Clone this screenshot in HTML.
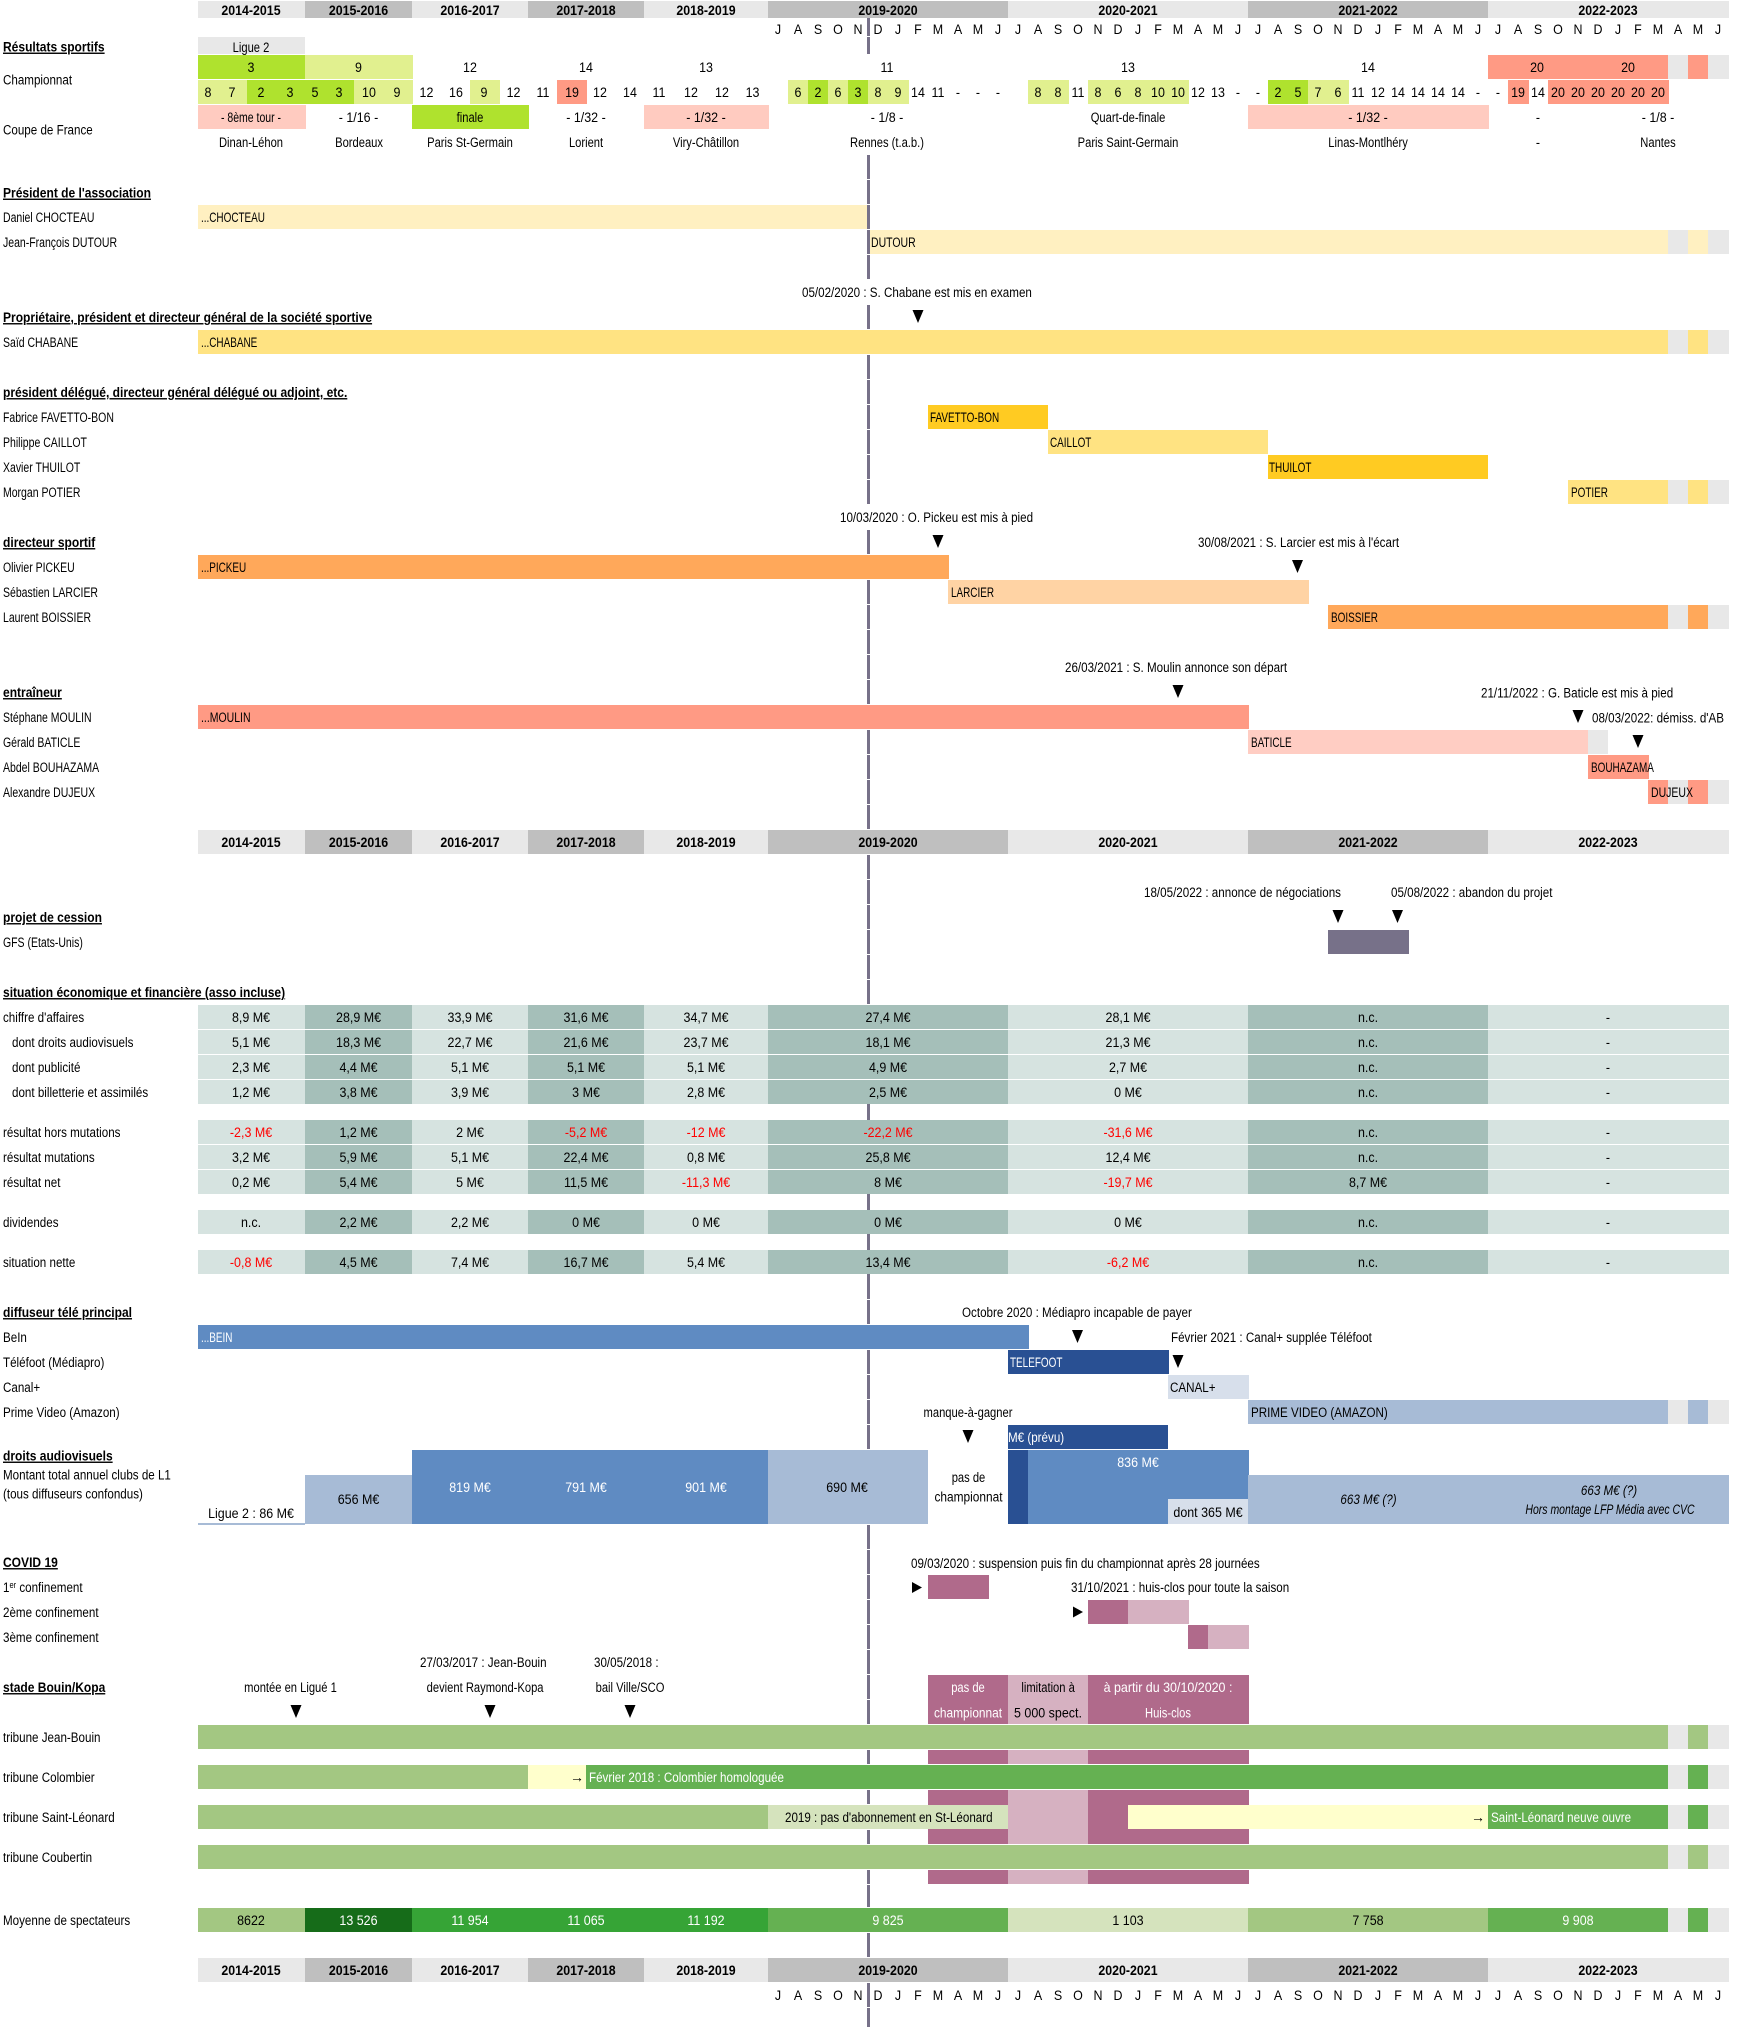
<!DOCTYPE html>
<html lang="fr"><head><meta charset="utf-8"><title>Timeline</title>
<style>
html,body{margin:0;padding:0;background:#fff}
svg{display:block}
text{font:14px "Liberation Sans",sans-serif;fill:#000;transform-box:fill-box;transform-origin:0 50%;transform:scaleX(.83)}
.m{text-anchor:middle;transform-origin:50% 50%;transform:scaleX(.89)}
.t{transform:scaleX(.8)}
.b{font-weight:bold;transform:scaleX(.86)}
.b.m{transform:scaleX(.885)}
.c{transform:scaleX(.75)}
.d{transform:scaleX(.71)}
.u{text-decoration:underline}
.w{fill:#fff}
.r{fill:#f00}
.i{font-style:italic}
.a{font-weight:bold;transform:none}
rect{shape-rendering:crispEdges}
</style></head><body>
<svg xmlns="http://www.w3.org/2000/svg" width="1751" height="2027" viewBox="0 0 1751 2027">
<rect width="1751" height="2027" fill="#fff"/>

<!-- header 1 -->
<g fill="#e8e8e8"><rect x="198" y="1" width="107" height="17"/><rect x="412" y="1" width="116" height="17"/><rect x="644" y="1" width="124" height="17"/><rect x="1008" y="1" width="240" height="17"/><rect x="1488" y="1" width="241" height="17"/></g>
<g fill="#bfbfbf"><rect x="305" y="1" width="107" height="17"/><rect x="528" y="1" width="116" height="17"/><rect x="768" y="1" width="240" height="17"/><rect x="1248" y="1" width="240" height="17"/></g>
<!-- header 2 -->
<g fill="#e8e8e8"><rect x="198" y="830" width="107" height="24"/><rect x="412" y="830" width="116" height="24"/><rect x="644" y="830" width="124" height="24"/><rect x="1008" y="830" width="240" height="24"/><rect x="1488" y="830" width="241" height="24"/></g>
<g fill="#bfbfbf"><rect x="305" y="830" width="107" height="24"/><rect x="528" y="830" width="116" height="24"/><rect x="768" y="830" width="240" height="24"/><rect x="1248" y="830" width="240" height="24"/></g>
<!-- header 3 -->
<g fill="#e8e8e8"><rect x="198" y="1958" width="107" height="24"/><rect x="412" y="1958" width="116" height="24"/><rect x="644" y="1958" width="124" height="24"/><rect x="1008" y="1958" width="240" height="24"/><rect x="1488" y="1958" width="241" height="24"/></g>
<g fill="#bfbfbf"><rect x="305" y="1958" width="107" height="24"/><rect x="528" y="1958" width="116" height="24"/><rect x="768" y="1958" width="240" height="24"/><rect x="1248" y="1958" width="240" height="24"/></g>

<!-- gray tails -->
<g fill="#e8e8e8">
<rect x="1668" y="55" width="61" height="24"/><rect x="1668" y="230" width="61" height="24"/><rect x="1668" y="330" width="61" height="24"/><rect x="1668" y="480" width="61" height="24"/><rect x="1668" y="605" width="61" height="24"/><rect x="1668" y="780" width="61" height="24"/><rect x="1588" y="730" width="20" height="24"/><rect x="1668" y="1400" width="61" height="24"/><rect x="1668" y="1725" width="61" height="24"/><rect x="1668" y="1765" width="61" height="24"/><rect x="1668" y="1805" width="61" height="24"/><rect x="1668" y="1845" width="61" height="24"/><rect x="1668" y="1908" width="61" height="24"/>
</g>

<!-- results -->
<rect x="198" y="37" width="107" height="17" fill="#e8e8e8"/>
<rect x="198" y="55" width="107" height="24" fill="#afe22e"/>
<rect x="305" y="55" width="108" height="24" fill="#e1f08f"/>
<rect x="1488" y="55" width="180" height="24" fill="#ff9a84"/><rect x="1688" y="55" width="20" height="24" fill="#ff9a84"/>
<g fill="#e1f08f"><rect x="198" y="80" width="49" height="24"/><rect x="354" y="80" width="59" height="24"/><rect x="470" y="80" width="30" height="24"/><rect x="788" y="80" width="20" height="24"/><rect x="828" y="80" width="20" height="24"/><rect x="868" y="80" width="41" height="24"/><rect x="1028" y="80" width="41" height="24"/><rect x="1088" y="80" width="101" height="24"/><rect x="1308" y="80" width="41" height="24"/></g>
<g fill="#afe22e"><rect x="247" y="80" width="107" height="24"/><rect x="808" y="80" width="20" height="24"/><rect x="848" y="80" width="20" height="24"/><rect x="1268" y="80" width="40" height="24"/></g>
<g fill="#ff9a84"><rect x="557" y="80" width="30" height="24"/><rect x="1508" y="80" width="21" height="24"/><rect x="1548" y="80" width="121" height="24"/></g>
<g fill="#ffcbc0"><rect x="198" y="105" width="108" height="24"/><rect x="644" y="105" width="125" height="24"/><rect x="1248" y="105" width="241" height="24"/></g>
<rect x="412" y="105" width="117" height="24" fill="#afe22e"/>

<!-- vertical line -->
<path d="M868.5 18V36M868.5 37V54M868.5 155V179M868.5 180V204M868.5 205V229M868.5 230V254M868.5 255V279M868.5 305V329M868.5 355V379M868.5 380V404M868.5 405V429M868.5 430V454M868.5 455V479M868.5 480V504M868.5 530V554M868.5 580V604M868.5 605V629M868.5 630V654M868.5 655V679M868.5 680V704M868.5 730V754M868.5 755V779M868.5 780V804M868.5 805V829M868.5 855V879M868.5 880V904M868.5 905V929M868.5 930V954M868.5 955V979M868.5 980V1004M868.5 1104V1120M868.5 1194V1210M868.5 1234V1250M868.5 1274V1299M868.5 1300V1324M868.5 1350V1374M868.5 1375V1399M868.5 1400V1424M868.5 1425V1449M868.5 1525V1549M868.5 1550V1574M868.5 1575V1599M868.5 1600V1624M868.5 1625V1649M868.5 1650V1674M868.5 1675V1699M868.5 1700V1724M868.5 1750V1764M868.5 1790V1804M868.5 1830V1844M868.5 1870V1884M868.5 1885V1907M868.5 1933V1957M868.5 1983V2007M868.5 2008V2027" stroke="#777189" stroke-width="3" fill="none" shape-rendering="crispEdges"/>

<!-- bars -->
<rect x="198" y="205" width="669" height="24" fill="#fff0c1"/>
<rect x="870" y="230" width="798" height="24" fill="#fff0c1"/><rect x="1688" y="230" width="20" height="24" fill="#fff0c1"/>
<rect x="198" y="330" width="1470" height="24" fill="#ffe382"/><rect x="1688" y="330" width="20" height="24" fill="#ffe382"/>
<rect x="928" y="405" width="120" height="24" fill="#ffcb22"/>
<rect x="1048" y="430" width="220" height="24" fill="#ffe382"/>
<rect x="1268" y="455" width="220" height="24" fill="#ffcb22"/>
<rect x="1568" y="480" width="100" height="24" fill="#ffe382"/><rect x="1688" y="480" width="20" height="24" fill="#ffe382"/>
<rect x="198" y="555" width="751" height="24" fill="#ffa85a"/>
<rect x="948" y="580" width="361" height="24" fill="#ffd3a4"/>
<rect x="1328" y="605" width="340" height="24" fill="#ffa85a"/><rect x="1688" y="605" width="20" height="24" fill="#ffa85a"/>
<rect x="198" y="705" width="1051" height="24" fill="#ff9a84"/>
<rect x="1248" y="730" width="340" height="24" fill="#ffcdc3"/>
<rect x="1588" y="755" width="61" height="24" fill="#ff9a84"/>
<rect x="1648" y="780" width="20" height="24" fill="#ff9a84"/><rect x="1688" y="780" width="20" height="24" fill="#ff9a84"/>
<rect x="1328" y="930" width="81" height="24" fill="#777189"/>

<!-- finance cells -->
<g fill="#d6e3e0">
<rect x="198" y="1005" width="1531" height="24"/><rect x="198" y="1030" width="1531" height="24"/><rect x="198" y="1055" width="1531" height="24"/><rect x="198" y="1080" width="1531" height="24"/><rect x="198" y="1120" width="1531" height="24"/><rect x="198" y="1145" width="1531" height="24"/><rect x="198" y="1170" width="1531" height="24"/><rect x="198" y="1210" width="1531" height="24"/><rect x="198" y="1250" width="1531" height="24"/>
</g>
<g fill="#a5bfb9">
<path d="M305 1005h107v24h-107zM528 1005h116v24h-116zM768 1005h240v24h-240zM1248 1005h240v24h-240zM305 1030h107v24h-107zM528 1030h116v24h-116zM768 1030h240v24h-240zM1248 1030h240v24h-240zM305 1055h107v24h-107zM528 1055h116v24h-116zM768 1055h240v24h-240zM1248 1055h240v24h-240zM305 1080h107v24h-107zM528 1080h116v24h-116zM768 1080h240v24h-240zM1248 1080h240v24h-240zM305 1120h107v24h-107zM528 1120h116v24h-116zM768 1120h240v24h-240zM1248 1120h240v24h-240zM305 1145h107v24h-107zM528 1145h116v24h-116zM768 1145h240v24h-240zM1248 1145h240v24h-240zM305 1170h107v24h-107zM528 1170h116v24h-116zM768 1170h240v24h-240zM1248 1170h240v24h-240zM305 1210h107v24h-107zM528 1210h116v24h-116zM768 1210h240v24h-240zM1248 1210h240v24h-240zM305 1250h107v24h-107zM528 1250h116v24h-116zM768 1250h240v24h-240zM1248 1250h240v24h-240z" shape-rendering="crispEdges"/>
</g>

<!-- TV -->
<rect x="198" y="1325" width="831" height="24" fill="#5f8bc2"/>
<rect x="1008" y="1350" width="161" height="24" fill="#295093"/>
<rect x="1168" y="1375" width="81" height="24" fill="#d7dfeb"/>
<rect x="1248" y="1400" width="420" height="24" fill="#a7bbd6"/><rect x="1688" y="1400" width="20" height="24" fill="#a7bbd6"/>
<rect x="1008" y="1425" width="160" height="24" fill="#295093"/>
<rect x="198" y="1523" width="107" height="2" fill="#a7bbd6"/>
<rect x="305" y="1475" width="107" height="49" fill="#a7bbd6"/>
<rect x="412" y="1450" width="356" height="74" fill="#5f8bc2"/>
<rect x="768" y="1450" width="160" height="74" fill="#a7bbd6"/>
<rect x="1008" y="1450" width="20" height="74" fill="#295093"/>
<rect x="1028" y="1450" width="221" height="49" fill="#5f8bc2"/><rect x="1028" y="1499" width="140" height="25" fill="#5f8bc2"/>
<rect x="1168" y="1499" width="80" height="25" fill="#d7dfeb"/>
<rect x="1248" y="1475" width="481" height="49" fill="#a7bbd6"/>

<!-- covid -->
<rect x="928" y="1575" width="61" height="24" fill="#b06a8b"/>
<rect x="1088" y="1600" width="40" height="24" fill="#b06a8b"/><rect x="1128" y="1600" width="61" height="24" fill="#d6b1c1"/>
<rect x="1188" y="1625" width="20" height="24" fill="#b06a8b"/><rect x="1208" y="1625" width="41" height="24" fill="#d6b1c1"/>

<!-- stadium -->
<g fill="#b06a8b"><rect x="928" y="1675" width="80" height="49"/><rect x="1088" y="1675" width="161" height="49"/><rect x="928" y="1750" width="80" height="14"/><rect x="1088" y="1750" width="161" height="14"/><rect x="928" y="1790" width="80" height="54"/><rect x="1088" y="1790" width="161" height="54"/><rect x="928" y="1870" width="80" height="14"/><rect x="1088" y="1870" width="161" height="14"/></g>
<g fill="#d6b1c1"><rect x="1008" y="1675" width="80" height="49"/><rect x="1008" y="1750" width="80" height="14"/><rect x="1008" y="1790" width="80" height="54"/><rect x="1008" y="1870" width="80" height="14"/></g>
<g fill="#a3c782"><rect x="198" y="1725" width="1470" height="24"/><rect x="1688" y="1725" width="20" height="24"/><rect x="198" y="1765" width="330" height="24"/><rect x="198" y="1805" width="570" height="24"/><rect x="198" y="1845" width="1470" height="24"/><rect x="1688" y="1845" width="20" height="24"/><rect x="198" y="1908" width="107" height="24"/><rect x="1248" y="1908" width="240" height="24"/></g>
<rect x="528" y="1765" width="58" height="24" fill="#ffffcc"/>
<g fill="#65b152"><rect x="586" y="1765" width="1082" height="24"/><rect x="1688" y="1765" width="20" height="24"/><rect x="1488" y="1805" width="180" height="24"/><rect x="1688" y="1805" width="20" height="24"/><rect x="768" y="1908" width="240" height="24"/><rect x="1488" y="1908" width="180" height="24"/><rect x="1688" y="1908" width="20" height="24"/></g>
<rect x="768" y="1805" width="240" height="24" fill="#d5e3bd"/>
<rect x="1128" y="1805" width="360" height="24" fill="#ffffcc"/>
<rect x="305" y="1908" width="107" height="24" fill="#166c19"/>
<rect x="412" y="1908" width="356" height="24" fill="#36a436"/>
<rect x="1008" y="1908" width="240" height="24" fill="#d5e3bd"/>

<!-- triangles -->
<path fill="#000" d="M912.5 310h11l-5.5 13zM932.5 535h11l-5.500 13zM1292 560h11l-5.500 13zM1172.500 685h11l-5.500 13zM1572.500 710h11l-5.500 13zM1632.500 735h11l-5.500 13zM1332.500 910h11l-5.500 13zM1392 910h11l-5.500 13zM1072 1330h11l-5.500 13zM1172.500 1355h11l-5.500 13zM962.500 1430h11l-5.500 13zM290.500 1705h11l-5.500 13zM484.500 1705h11l-5.500 13zM624.500 1705h11l-5.500 13zM912 1582l10 5.500l-10 5.500zM1073 1606.500l10 5.500l-10 5.500z"/>

<!-- header text -->
<text class="b m" x="251" y="15">2014-2015</text><text class="b m" x="358.500" y="15">2015-2016</text><text class="b m" x="470" y="15">2016-2017</text><text class="b m" x="586" y="15">2017-2018</text><text class="b m" x="706" y="15">2018-2019</text><text class="b m" x="888" y="15">2019-2020</text><text class="b m" x="1128" y="15">2020-2021</text><text class="b m" x="1368" y="15">2021-2022</text><text class="b m" x="1608" y="15">2022-2023</text>
<text class="b m" x="251" y="847">2014-2015</text><text class="b m" x="358.500" y="847">2015-2016</text><text class="b m" x="470" y="847">2016-2017</text><text class="b m" x="586" y="847">2017-2018</text><text class="b m" x="706" y="847">2018-2019</text><text class="b m" x="888" y="847">2019-2020</text><text class="b m" x="1128" y="847">2020-2021</text><text class="b m" x="1368" y="847">2021-2022</text><text class="b m" x="1608" y="847">2022-2023</text>
<text class="b m" x="251" y="1975">2014-2015</text><text class="b m" x="358.500" y="1975">2015-2016</text><text class="b m" x="470" y="1975">2016-2017</text><text class="b m" x="586" y="1975">2017-2018</text><text class="b m" x="706" y="1975">2018-2019</text><text class="b m" x="888" y="1975">2019-2020</text><text class="b m" x="1128" y="1975">2020-2021</text><text class="b m" x="1368" y="1975">2021-2022</text><text class="b m" x="1608" y="1975">2022-2023</text>

<!-- months top -->
<text class="m" x="778" y="34">J</text><text class="m" x="798" y="34">A</text><text class="m" x="818" y="34">S</text><text class="m" x="838" y="34">O</text><text class="m" x="858" y="34">N</text><text class="m" x="878" y="34">D</text><text class="m" x="898" y="34">J</text><text class="m" x="918" y="34">F</text><text class="m" x="938" y="34">M</text><text class="m" x="958" y="34">A</text><text class="m" x="978" y="34">M</text><text class="m" x="998" y="34">J</text><text class="m" x="1018" y="34">J</text><text class="m" x="1038" y="34">A</text><text class="m" x="1058" y="34">S</text><text class="m" x="1078" y="34">O</text><text class="m" x="1098" y="34">N</text><text class="m" x="1118" y="34">D</text><text class="m" x="1138" y="34">J</text><text class="m" x="1158" y="34">F</text><text class="m" x="1178" y="34">M</text><text class="m" x="1198" y="34">A</text><text class="m" x="1218" y="34">M</text><text class="m" x="1238" y="34">J</text><text class="m" x="1258" y="34">J</text><text class="m" x="1278" y="34">A</text><text class="m" x="1298" y="34">S</text><text class="m" x="1318" y="34">O</text><text class="m" x="1338" y="34">N</text><text class="m" x="1358" y="34">D</text><text class="m" x="1378" y="34">J</text><text class="m" x="1398" y="34">F</text><text class="m" x="1418" y="34">M</text><text class="m" x="1438" y="34">A</text><text class="m" x="1458" y="34">M</text><text class="m" x="1478" y="34">J</text><text class="m" x="1498" y="34">J</text><text class="m" x="1518" y="34">A</text><text class="m" x="1538" y="34">S</text><text class="m" x="1558" y="34">O</text><text class="m" x="1578" y="34">N</text><text class="m" x="1598" y="34">D</text><text class="m" x="1618" y="34">J</text><text class="m" x="1638" y="34">F</text><text class="m" x="1658" y="34">M</text><text class="m" x="1678" y="34">A</text><text class="m" x="1698" y="34">M</text><text class="m" x="1718" y="34">J</text>
<!-- months bottom -->
<text class="m" x="778" y="2000">J</text><text class="m" x="798" y="2000">A</text><text class="m" x="818" y="2000">S</text><text class="m" x="838" y="2000">O</text><text class="m" x="858" y="2000">N</text><text class="m" x="878" y="2000">D</text><text class="m" x="898" y="2000">J</text><text class="m" x="918" y="2000">F</text><text class="m" x="938" y="2000">M</text><text class="m" x="958" y="2000">A</text><text class="m" x="978" y="2000">M</text><text class="m" x="998" y="2000">J</text><text class="m" x="1018" y="2000">J</text><text class="m" x="1038" y="2000">A</text><text class="m" x="1058" y="2000">S</text><text class="m" x="1078" y="2000">O</text><text class="m" x="1098" y="2000">N</text><text class="m" x="1118" y="2000">D</text><text class="m" x="1138" y="2000">J</text><text class="m" x="1158" y="2000">F</text><text class="m" x="1178" y="2000">M</text><text class="m" x="1198" y="2000">A</text><text class="m" x="1218" y="2000">M</text><text class="m" x="1238" y="2000">J</text><text class="m" x="1258" y="2000">J</text><text class="m" x="1278" y="2000">A</text><text class="m" x="1298" y="2000">S</text><text class="m" x="1318" y="2000">O</text><text class="m" x="1338" y="2000">N</text><text class="m" x="1358" y="2000">D</text><text class="m" x="1378" y="2000">J</text><text class="m" x="1398" y="2000">F</text><text class="m" x="1418" y="2000">M</text><text class="m" x="1438" y="2000">A</text><text class="m" x="1458" y="2000">M</text><text class="m" x="1478" y="2000">J</text><text class="m" x="1498" y="2000">J</text><text class="m" x="1518" y="2000">A</text><text class="m" x="1538" y="2000">S</text><text class="m" x="1558" y="2000">O</text><text class="m" x="1578" y="2000">N</text><text class="m" x="1598" y="2000">D</text><text class="m" x="1618" y="2000">J</text><text class="m" x="1638" y="2000">F</text><text class="m" x="1658" y="2000">M</text><text class="m" x="1678" y="2000">A</text><text class="m" x="1698" y="2000">M</text><text class="m" x="1718" y="2000">J</text>

<!-- left labels -->
<text class="b u" x="3" y="51.500">Résultats sportifs</text>
<text x="3" y="84.500">Championnat</text>
<text x="3" y="134.500">Coupe de France</text>
<text class="b u" x="3" y="197.500">Président de l'association</text>
<text class="c" x="3" y="222">Daniel CHOCTEAU</text>
<text class="c" x="3" y="247">Jean-François DUTOUR</text>
<text class="b u" x="3" y="322">Propriétaire, président et directeur général de la société sportive</text>
<text class="c" x="3" y="347">Saïd CHABANE</text>
<text class="b u" x="3" y="397">président délégué, directeur général délégué ou adjoint, etc.</text>
<text class="c" x="3" y="422">Fabrice FAVETTO-BON</text>
<text class="c" x="3" y="447">Philippe CAILLOT</text>
<text class="c" x="3" y="472">Xavier THUILOT</text>
<text class="c" x="3" y="497">Morgan POTIER</text>
<text class="b u" x="3" y="547">directeur sportif</text>
<text class="c" x="3" y="572">Olivier PICKEU</text>
<text class="c" x="3" y="597">Sébastien LARCIER</text>
<text class="c" x="3" y="622">Laurent BOISSIER</text>
<text class="b u" x="3" y="697">entraîneur</text>
<text class="c" x="3" y="722">Stéphane MOULIN</text>
<text class="c" x="3" y="747">Gérald BATICLE</text>
<text class="c" x="3" y="772">Abdel BOUHAZAMA</text>
<text class="c" x="3" y="797">Alexandre DUJEUX</text>
<text class="b u" x="3" y="922">projet de cession</text>
<text class="c" x="3" y="947">GFS (Etats-Unis)</text>
<text class="b u" x="3" y="997">situation économique et financière (asso incluse)</text>
<text x="3" y="1022">chiffre d'affaires</text>
<text x="12" y="1047">dont droits audiovisuels</text>
<text x="12" y="1072">dont publicité</text>
<text x="12" y="1097">dont billetterie et assimilés</text>
<text x="3" y="1137">résultat hors mutations</text>
<text x="3" y="1162">résultat mutations</text>
<text x="3" y="1187">résultat net</text>
<text x="3" y="1227">dividendes</text>
<text x="3" y="1267">situation nette</text>
<text class="b u" x="3" y="1317">diffuseur télé principal</text>
<text x="3" y="1342">BeIn</text>
<text x="3" y="1367">Téléfoot (Médiapro)</text>
<text x="3" y="1392">Canal+</text>
<text x="3" y="1417">Prime Video (Amazon)</text>
<text class="b u" x="3" y="1460.500">droits audiovisuels</text>
<text x="3" y="1479.500">Montant total annuel clubs de L1</text>
<text x="3" y="1498.500">(tous diffuseurs confondus)</text>
<text class="b u" x="3" y="1567">COVID 19</text>
<text x="3" y="1592">1<tspan font-size="9" dy="-4">er</tspan><tspan dy="4"> confinement</tspan></text>
<text x="3" y="1617">2ème confinement</text>
<text x="3" y="1642">3ème confinement</text>
<text class="b u" x="3" y="1692">stade Bouin/Kopa</text>
<text x="3" y="1742">tribune Jean-Bouin</text>
<text x="3" y="1782">tribune Colombier</text>
<text x="3" y="1822">tribune Saint-Léonard</text>
<text x="3" y="1862">tribune Coubertin</text>
<text x="3" y="1925">Moyenne de spectateurs</text>

<!-- results text -->
<text class="m t" x="251" y="52">Ligue 2</text>
<text class="m" x="251" y="72">3</text><text class="m" x="358.500" y="72">9</text><text class="m" x="470" y="72">12</text><text class="m" x="586" y="72">14</text><text class="m" x="706" y="72">13</text><text class="m" x="887" y="72">11</text><text class="m" x="1128" y="72">13</text><text class="m" x="1368" y="72">14</text><text class="m" x="1537" y="72">20</text><text class="m" x="1628" y="72">20</text>
<text class="m" x="208" y="97">8</text><text class="m" x="232" y="97">7</text><text class="m" x="261" y="97">2</text><text class="m" x="290" y="97">3</text><text class="m" x="315" y="97">5</text><text class="m" x="339" y="97">3</text><text class="m" x="369" y="97">10</text><text class="m" x="397" y="97">9</text><text class="m" x="426.500" y="97">12</text><text class="m" x="456" y="97">16</text><text class="m" x="484" y="97">9</text><text class="m" x="513.500" y="97">12</text><text class="m" x="543" y="97">11</text><text class="m" x="572" y="97">19</text><text class="m" x="600" y="97">12</text><text class="m" x="630" y="97">14</text><text class="m" x="659" y="97">11</text><text class="m" x="691" y="97">12</text><text class="m" x="722" y="97">12</text><text class="m" x="752.500" y="97">13</text>
<text class="m" x="798" y="97">6</text><text class="m" x="818" y="97">2</text><text class="m" x="838" y="97">6</text><text class="m" x="858" y="97">3</text><text class="m" x="878" y="97">8</text><text class="m" x="898" y="97">9</text><text class="m" x="918" y="97">14</text><text class="m" x="938" y="97">11</text><text class="m" x="958" y="97">-</text><text class="m" x="978" y="97">-</text><text class="m" x="998" y="97">-</text>
<text class="m" x="1038" y="97">8</text><text class="m" x="1058" y="97">8</text><text class="m" x="1078" y="97">11</text><text class="m" x="1098" y="97">8</text><text class="m" x="1118" y="97">6</text><text class="m" x="1138" y="97">8</text><text class="m" x="1158" y="97">10</text><text class="m" x="1178" y="97">10</text><text class="m" x="1198" y="97">12</text><text class="m" x="1218" y="97">13</text><text class="m" x="1238" y="97">-</text><text class="m" x="1258" y="97">-</text>
<text class="m" x="1278" y="97">2</text><text class="m" x="1298" y="97">5</text><text class="m" x="1318" y="97">7</text><text class="m" x="1338" y="97">6</text><text class="m" x="1358" y="97">11</text><text class="m" x="1378" y="97">12</text><text class="m" x="1398" y="97">14</text><text class="m" x="1418" y="97">14</text><text class="m" x="1438" y="97">14</text><text class="m" x="1458" y="97">14</text><text class="m" x="1478" y="97">-</text><text class="m" x="1498" y="97">-</text>
<text class="m" x="1518" y="97">19</text><text class="m" x="1538" y="97">14</text><text class="m" x="1558" y="97">20</text><text class="m" x="1578" y="97">20</text><text class="m" x="1598" y="97">20</text><text class="m" x="1618" y="97">20</text><text class="m" x="1638" y="97">20</text><text class="m" x="1658" y="97">20</text>
<text class="m c" x="251" y="122">- 8ème tour -</text><text class="m" x="358.500" y="122">- 1/16 -</text><text class="m t" x="470" y="122">finale</text><text class="m" x="586" y="122">- 1/32 -</text><text class="m" x="706" y="122">- 1/32 -</text><text class="m" x="887" y="122">- 1/8 -</text><text class="m t" x="1128" y="122">Quart-de-finale</text><text class="m" x="1368" y="122">- 1/32 -</text><text class="m" x="1538" y="122">-</text><text class="m" x="1658" y="122">- 1/8 -</text>
<text class="m t" x="251" y="147">Dinan-Léhon</text><text class="m t" x="359" y="147">Bordeaux</text><text class="m t" x="470" y="147">Paris St-Germain</text><text class="m t" x="586" y="147">Lorient</text><text class="m t" x="706" y="147">Viry-Châtillon</text><text class="m t" x="887" y="147">Rennes (t.a.b.)</text><text class="m t" x="1128" y="147">Paris Saint-Germain</text><text class="m t" x="1368" y="147">Linas-Montlhéry</text><text class="m" x="1538" y="147">-</text><text class="m t" x="1658" y="147">Nantes</text>

<!-- bar labels -->
<text class="d" x="201" y="222">...CHOCTEAU</text>
<text class="c" x="871" y="247">DUTOUR</text>
<text class="d" x="201" y="347">...CHABANE</text>
<text class="d" x="930" y="422">FAVETTO-BON</text>
<text class="d" x="1050" y="447">CAILLOT</text>
<text class="d" x="1269" y="472">THUILOT</text>
<text class="d" x="1571" y="497">POTIER</text>
<text class="d" x="201" y="572">...PICKEU</text>
<text class="d" x="951" y="597">LARCIER</text>
<text class="d" x="1331" y="622">BOISSIER</text>
<text class="c" x="201" y="722">...MOULIN</text>
<text class="d" x="1251" y="747">BATICLE</text>
<text class="d" x="1591" y="772">BOUHAZAMA</text>
<text class="c" x="1651" y="797">DUJEUX</text>

<!-- event labels -->
<text x="802" y="297">05/02/2020 : S. Chabane est mis en examen</text>
<text x="840" y="522">10/03/2020 : O. Pickeu est mis à pied</text>
<text x="1198" y="547">30/08/2021 : S. Larcier est mis à l'écart</text>
<text x="1065" y="672">26/03/2021 : S. Moulin annonce son départ</text>
<text x="1481" y="697.500">21/11/2022 : G. Baticle est mis à pied</text>
<text x="1592" y="722.500">08/03/2022: démiss. d'AB</text>
<text x="1144" y="897">18/05/2022 : annonce de négociations</text>
<text x="1391" y="897">05/08/2022 : abandon du projet</text>

<!-- finance text -->
<text class="m" x="251" y="1022">8,9 M€</text><text class="m" x="358.500" y="1022">28,9 M€</text><text class="m" x="470" y="1022">33,9 M€</text><text class="m" x="586" y="1022">31,6 M€</text><text class="m" x="706" y="1022">34,7 M€</text><text class="m" x="888" y="1022">27,4 M€</text><text class="m" x="1128" y="1022">28,1 M€</text><text class="m" x="1368" y="1022">n.c.</text><text class="m" x="1608" y="1022">-</text>
<text class="m" x="251" y="1047">5,1 M€</text><text class="m" x="358.500" y="1047">18,3 M€</text><text class="m" x="470" y="1047">22,7 M€</text><text class="m" x="586" y="1047">21,6 M€</text><text class="m" x="706" y="1047">23,7 M€</text><text class="m" x="888" y="1047">18,1 M€</text><text class="m" x="1128" y="1047">21,3 M€</text><text class="m" x="1368" y="1047">n.c.</text><text class="m" x="1608" y="1047">-</text>
<text class="m" x="251" y="1072">2,3 M€</text><text class="m" x="358.500" y="1072">4,4 M€</text><text class="m" x="470" y="1072">5,1 M€</text><text class="m" x="586" y="1072">5,1 M€</text><text class="m" x="706" y="1072">5,1 M€</text><text class="m" x="888" y="1072">4,9 M€</text><text class="m" x="1128" y="1072">2,7 M€</text><text class="m" x="1368" y="1072">n.c.</text><text class="m" x="1608" y="1072">-</text>
<text class="m" x="251" y="1097">1,2 M€</text><text class="m" x="358.500" y="1097">3,8 M€</text><text class="m" x="470" y="1097">3,9 M€</text><text class="m" x="586" y="1097">3 M€</text><text class="m" x="706" y="1097">2,8 M€</text><text class="m" x="888" y="1097">2,5 M€</text><text class="m" x="1128" y="1097">0 M€</text><text class="m" x="1368" y="1097">n.c.</text><text class="m" x="1608" y="1097">-</text>
<text class="m r" x="251" y="1137">-2,3 M€</text><text class="m" x="358.500" y="1137">1,2 M€</text><text class="m" x="470" y="1137">2 M€</text><text class="m r" x="586" y="1137">-5,2 M€</text><text class="m r" x="706" y="1137">-12 M€</text><text class="m r" x="888" y="1137">-22,2 M€</text><text class="m r" x="1128" y="1137">-31,6 M€</text><text class="m" x="1368" y="1137">n.c.</text><text class="m" x="1608" y="1137">-</text>
<text class="m" x="251" y="1162">3,2 M€</text><text class="m" x="358.500" y="1162">5,9 M€</text><text class="m" x="470" y="1162">5,1 M€</text><text class="m" x="586" y="1162">22,4 M€</text><text class="m" x="706" y="1162">0,8 M€</text><text class="m" x="888" y="1162">25,8 M€</text><text class="m" x="1128" y="1162">12,4 M€</text><text class="m" x="1368" y="1162">n.c.</text><text class="m" x="1608" y="1162">-</text>
<text class="m" x="251" y="1187">0,2 M€</text><text class="m" x="358.500" y="1187">5,4 M€</text><text class="m" x="470" y="1187">5 M€</text><text class="m" x="586" y="1187">11,5 M€</text><text class="m r" x="706" y="1187">-11,3 M€</text><text class="m" x="888" y="1187">8 M€</text><text class="m r" x="1128" y="1187">-19,7 M€</text><text class="m" x="1368" y="1187">8,7 M€</text><text class="m" x="1608" y="1187">-</text>
<text class="m" x="251" y="1227">n.c.</text><text class="m" x="358.500" y="1227">2,2 M€</text><text class="m" x="470" y="1227">2,2 M€</text><text class="m" x="586" y="1227">0 M€</text><text class="m" x="706" y="1227">0 M€</text><text class="m" x="888" y="1227">0 M€</text><text class="m" x="1128" y="1227">0 M€</text><text class="m" x="1368" y="1227">n.c.</text><text class="m" x="1608" y="1227">-</text>
<text class="m r" x="251" y="1267">-0,8 M€</text><text class="m" x="358.500" y="1267">4,5 M€</text><text class="m" x="470" y="1267">7,4 M€</text><text class="m" x="586" y="1267">16,7 M€</text><text class="m" x="706" y="1267">5,4 M€</text><text class="m" x="888" y="1267">13,4 M€</text><text class="m r" x="1128" y="1267">-6,2 M€</text><text class="m" x="1368" y="1267">n.c.</text><text class="m" x="1608" y="1267">-</text>

<!-- TV text -->
<text class="w d" x="201" y="1342">...BEIN</text>
<text x="962" y="1317">Octobre 2020 :  Médiapro incapable de payer</text>
<text x="1171" y="1342">Février 2021 : Canal+ supplée Téléfoot</text>
<text class="w d" x="1010" y="1367">TELEFOOT</text>
<text x="1170" y="1392">CANAL+</text>
<text x="1251" y="1417">PRIME VIDEO (AMAZON)</text>
<text class="m t" x="968" y="1417">manque-à-gagner</text>
<text class="w" x="1008" y="1442">M€ (prévu)</text>
<text class="m t" x="968.500" y="1482">pas de</text>
<text class="m" style="transform:scaleX(.85)" x="968.500" y="1501.500">championnat</text>
<text class="m w" x="1138" y="1467">836 M€</text>
<text class="m" x="1208" y="1517">dont 365 M€</text>
<text class="m i" style="transform:scaleX(.83)" x="1368.500" y="1504">663 M€ (?)</text>
<text class="m i" style="transform:scaleX(.83)" x="1609" y="1495">663 M€ (?)</text>
<text class="m i c" x="1610" y="1514">Hors montage LFP Média avec CVC</text>
<text class="m" x="251" y="1518">Ligue 2 : 86 M€</text>
<text class="m" x="358.500" y="1504">656 M€</text>
<text class="m w" x="470" y="1492">819 M€</text>
<text class="m w" x="586" y="1492">791 M€</text>
<text class="m w" x="706" y="1492">901 M€</text>
<text class="m" x="847" y="1492">690 M€</text>

<!-- covid text -->
<text x="911" y="1568">09/03/2020 : suspension puis fin du championnat après 28 journées</text>
<text x="1071" y="1592">31/10/2021 : huis-clos pour toute la saison</text>
<text x="420" y="1667">27/03/2017 : Jean-Bouin</text>
<text x="594" y="1667">30/05/2018 :</text>
<text class="m t" x="290.500" y="1692">montée en Ligué 1</text>
<text class="m t" x="485" y="1692">devient Raymond-Kopa</text>
<text class="m t" x="630" y="1692">bail Ville/SCO</text>
<text class="m t w" x="968" y="1692">pas de</text>
<text class="m w" style="transform:scaleX(.85)" x="968" y="1717.500">championnat</text>
<text class="m t" x="1048" y="1692">limitation à</text>
<text class="m" x="1048" y="1717.500">5 000 spect.</text>
<text class="m w" x="1168" y="1692">à partir du 30/10/2020 :</text>
<text class="m t w" x="1168" y="1717.500">Huis-clos</text>

<!-- stadium text -->
<text class="m a" x="577" y="1782">→</text>
<text class="w" x="589" y="1782">Février 2018 : Colombier homologuée</text>
<text x="785" y="1822">2019 : pas d'abonnement en St-Léonard</text>
<text class="m a" x="1478" y="1822">→</text>
<text class="w" x="1491" y="1822">Saint-Léonard neuve ouvre</text>
<text class="m" x="251" y="1925">8622</text>
<text class="m w" x="358.500" y="1925">13 526</text>
<text class="m w" x="470" y="1925">11 954</text>
<text class="m w" x="586" y="1925">11 065</text>
<text class="m w" x="706" y="1925">11 192</text>
<text class="m w" x="888" y="1925">9 825</text>
<text class="m" x="1128" y="1925">1 103</text>
<text class="m" x="1368" y="1925">7 758</text>
<text class="m w" x="1578" y="1925">9 908</text>
</svg>
</body></html>
